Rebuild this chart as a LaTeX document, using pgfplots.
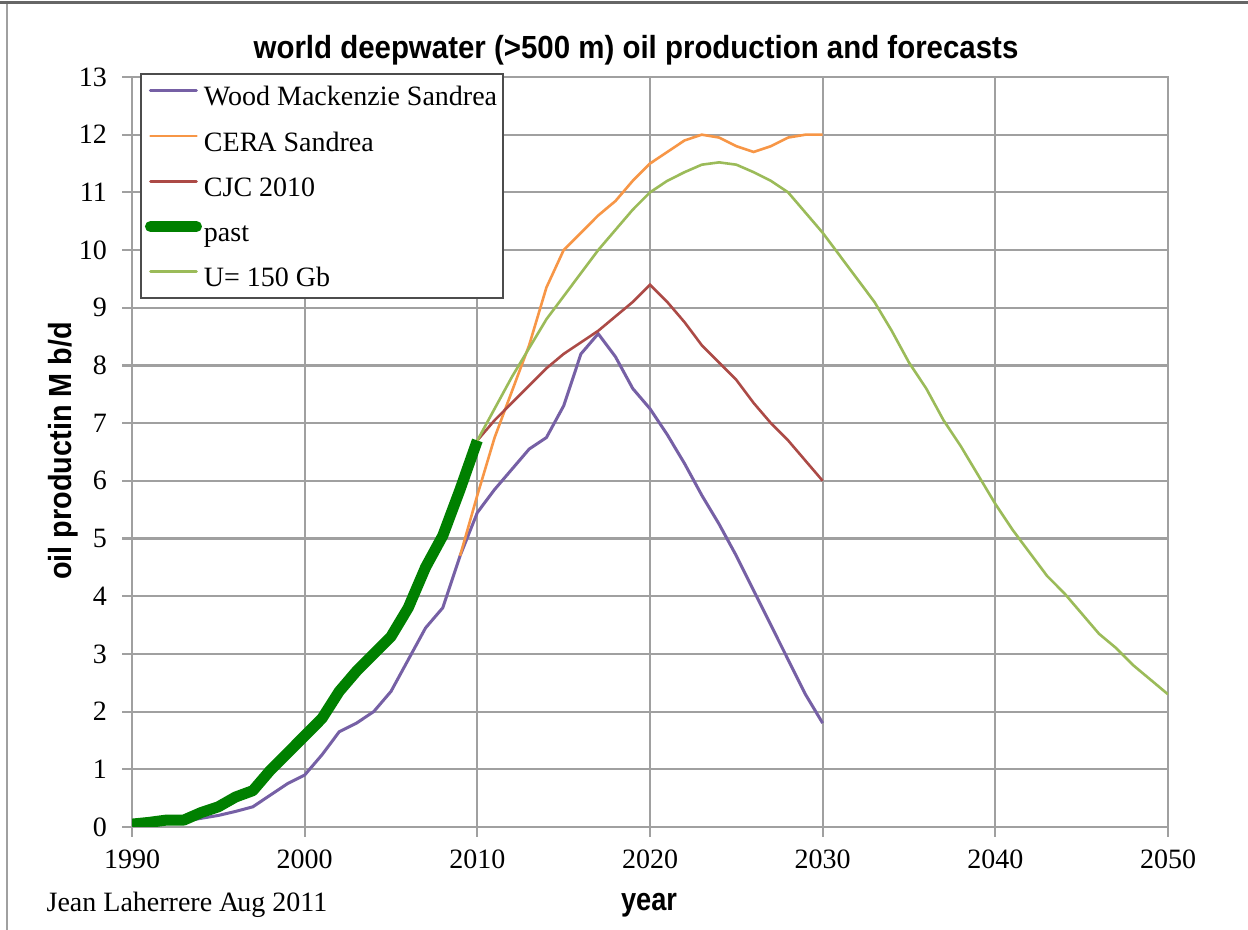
\documentclass[border=0pt]{standalone}
\usepackage{fontspec}
\setmainfont{Liberation Serif}
\newfontfamily\arialfont{Liberation Sans}
\usepackage{pgfplots}
\pgfplotsset{compat=1.18}
\definecolor{cpurple}{RGB}{118,96,165}
\definecolor{corange}{RGB}{247,150,70}
\definecolor{cred}{RGB}{172,74,70}
\definecolor{cdgreen}{RGB}{0,128,0}
\definecolor{clgreen}{RGB}{155,187,89}
\definecolor{cgrid}{RGB}{160,160,160}
\begin{document}
\begin{tikzpicture}[x=0.5pt,y=0.5pt]
% bounding box: 1248 x 930 px, 1px = 0.5pt, y up
\useasboundingbox (0,0) rectangle (1248,930);
\fill[white] (0,0) rectangle (1248,930);
\draw[gray!80!black, line width=1.6pt] (0,927.5) -- (1248,927.5);
\draw[cgrid, line width=1.2pt] (7,0) -- (7,926);
\begin{axis}[
  at={(66pt,51.5pt)}, anchor=south west,
  scale only axis, width=518pt, height=375pt,
  xmin=1990, xmax=2050, ymin=0, ymax=13,
  xtick={1990,2000,...,2050}, ytick={0,1,...,13},
  grid=major,
  major grid style={cgrid, line width=1.1pt},
  axis line style={cgrid, line width=1.1pt},
  tick style={cgrid, line width=1.1pt},
  tick align=outside, major tick length=5pt,
  xtick pos=bottom, ytick pos=left,
  /pgf/number format/assume math mode=true,
  /pgf/number format/set thousands separator={},
  tick label style={font=\fontsize{14}{16}\selectfont},
  xticklabel style={yshift=-3pt},
  yticklabel style={xshift=-4pt},
  legend style={at={(0.0077,1.005)}, anchor=north west, draw=black!70, line width=1pt,
    font=\fontsize{14}{16}\selectfont, row sep=10.3pt, inner xsep=2pt, inner ysep=4.5pt,
    nodes={inner sep=1pt, text height=10.3pt, text depth=0pt}},
  legend cell align=left,
  legend image code/.code={\draw[#1, line cap=round] (0pt,2.3pt) -- (23pt,2.3pt);},
]
\addplot[cpurple, line width=1.5pt] coordinates {
(1990,0.03)(1991,0.05)(1992,0.08)(1993,0.1)(1994,0.15)(1995,0.2)(1996,0.27)(1997,0.35)
(1998,0.55)(1999,0.75)(2000,0.9)(2001,1.25)(2002,1.65)(2003,1.8)(2004,2.0)(2005,2.35)
(2006,2.9)(2007,3.45)(2008,3.8)(2009,4.7)(2010,5.45)(2011,5.85)(2012,6.2)(2013,6.55)
(2014,6.75)(2015,7.3)(2016,8.2)(2017,8.55)(2018,8.15)(2019,7.6)(2020,7.25)(2021,6.8)
(2022,6.3)(2023,5.75)(2024,5.25)(2025,4.7)(2026,4.1)(2027,3.5)(2028,2.9)(2029,2.3)(2030,1.8)};
\addlegendentry{Wood Mackenzie Sandrea}
\addplot[corange, line width=1.3pt] coordinates {
(2009,4.7)(2010,5.75)(2011,6.75)(2012,7.55)(2013,8.35)(2014,9.35)(2015,10.0)(2016,10.3)
(2017,10.6)(2018,10.85)(2019,11.2)(2020,11.5)(2021,11.7)(2022,11.9)(2023,12.0)(2024,11.95)
(2025,11.8)(2026,11.7)(2027,11.8)(2028,11.95)(2029,12.0)(2030,12.0)};
\addlegendentry{CER\kern-1pt A Sandrea}
\addplot[cred, line width=1.3pt] coordinates {
(2010,6.7)(2011,7.05)(2012,7.35)(2013,7.65)(2014,7.95)(2015,8.2)(2016,8.4)(2017,8.6)
(2018,8.85)(2019,9.1)(2020,9.4)(2021,9.1)(2022,8.75)(2023,8.35)(2024,8.05)(2025,7.75)
(2026,7.35)(2027,7.0)(2028,6.7)(2029,6.35)(2030,6.0)};
\addlegendentry{CJC 2010}
\addplot[cdgreen, line width=5.5pt, line join=round] coordinates {
(1990,0.05)(1991,0.08)(1992,0.12)(1993,0.12)(1994,0.25)(1995,0.35)(1996,0.52)(1997,0.63)
(1998,0.98)(1999,1.28)(2000,1.58)(2001,1.88)(2002,2.35)(2003,2.7)(2004,3.0)(2005,3.3)
(2006,3.8)(2007,4.5)(2008,5.05)(2009,5.85)(2010,6.7)};
\addlegendentry{past}
\addplot[clgreen, line width=1.3pt] coordinates {
(2010,6.7)(2011,7.25)(2012,7.8)(2013,8.3)(2014,8.8)(2015,9.2)(2016,9.6)(2017,10.0)
(2018,10.35)(2019,10.7)(2020,11.0)(2021,11.2)(2022,11.35)(2023,11.48)(2024,11.52)(2025,11.48)
(2026,11.35)(2027,11.2)(2028,11.0)(2029,10.65)(2030,10.3)(2031,9.9)(2032,9.5)(2033,9.1)
(2034,8.6)(2035,8.05)(2036,7.6)(2037,7.05)(2038,6.6)(2039,6.1)(2040,5.6)(2041,5.15)
(2042,4.75)(2043,4.35)(2044,4.05)(2045,3.7)(2046,3.35)(2047,3.1)(2048,2.8)(2049,2.55)(2050,2.3)};
\addlegendentry{U= 150 Gb}
\end{axis}
\node[font=\arialfont\bfseries\fontsize{16}{18}\selectfont, inner sep=0pt] at (636,880) {\scalebox{0.92}[1]{world deepwater (>500 m) oil production and forecasts}};
\node[font=\arialfont\bfseries\fontsize{16}{18}\selectfont, inner sep=0pt, rotate=90] at (63,479) {\scalebox{0.9}[1]{oil productin M b/d}};
\node[font=\arialfont\bfseries\fontsize{16}{18}\selectfont, inner sep=0pt] at (649,25) {\scalebox{0.85}[1]{year}};
\node[font=\fontsize{14}{16}\selectfont, inner sep=0pt] at (187,25) {Jean Laherrere A\kern-1pt ug 2011};
\end{tikzpicture}
\end{document}
